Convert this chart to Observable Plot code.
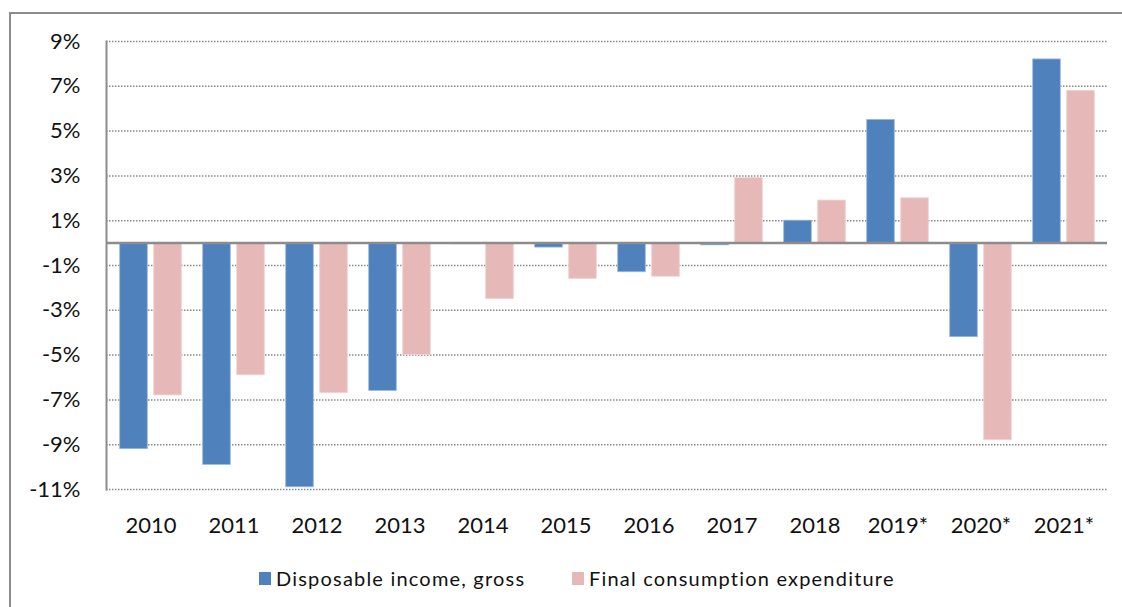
<!DOCTYPE html>
<html>
<head>
<meta charset="utf-8">
<script src="https://cdn.jsdelivr.net/npm/d3@7"></script>
<script src="https://cdn.jsdelivr.net/npm/@observablehq/plot@0.6"></script>
<style>
  html, body { margin: 0; padding: 0; background: #fff; overflow: hidden; width: 1122px; height: 607px; }
  #box { position: absolute; left: 9px; top: 12px; width: 2000px; height: 2000px;
         border-top: 2px solid #8c8c8c; border-left: 2px solid #8c8c8c; }
  #chart { position: absolute; left: 0; top: 0; }
  .leg { position: absolute; top: 566px; height: 24px; font-family: Lato, "Open Sans", sans-serif; font-size: 20px;
         letter-spacing: 1.2px; color: #111; display: flex; align-items: center; white-space: nowrap; }
  .sw { width: 12px; height: 13px; margin-right: 5px; display: inline-block; }
</style>
</head>
<body>
<div id="box"></div>
<div id="chart"></div>
<div id="legend"></div>
<script>
const years = ["2010","2011","2012","2013","2014","2015","2016","2017","2018","2019*","2020*","2021*"];
const incomeValues = [-9.2, -9.9, -10.9, -6.6, -0.05, -0.2, -1.3, -0.1, 1.0, 5.5, -4.2, 8.2];
const consumptionValues = [-6.8, -5.9, -6.7, -5.0, -2.5, -1.6, -1.5, 2.9, 1.9, 2.0, -8.8, 6.8];
const yTicks = [-11, -9, -7, -5, -3, -1, 1, 3, 5, 7, 9];
const seriesNames = ["Disposable income, gross", "Final consumption expenditure"];
const seriesColors = ["#4F81BD", "#E6B9B8"];

const income = years.map((y, i) => ({year: y, value: incomeValues[i]}));
const consumption = years.map((y, i) => ({year: y, value: consumptionValues[i]}));

const W = 1122, H = 545;
const mL = 106, mR = 15, mT = 41, mB = 56;
const step = (W - mL - mR) / years.length;
const barW = 28, gap = 6;
const outer = (step - 2 * barW - gap) / 2;

const chart = Plot.plot({
  width: W,
  height: H,
  marginLeft: mL,
  marginRight: mR,
  marginTop: mT,
  marginBottom: mB,
  style: { fontFamily: "Lato, 'Open Sans', sans-serif", fontSize: "22px", color: "#111", background: "transparent" },
  x: { domain: years, padding: 0, label: null },
  y: { domain: [-11, 9], label: null },
  marks: [
    Plot.gridY(yTicks, { stroke: "#8a8a8a", strokeOpacity: 1, strokeWidth: 1.5, strokeDasharray: "1.5,1.5" }),
    Plot.barY(income, { x: "year", y: "value", fill: seriesColors[0], stroke: "#9cb8dc", strokeWidth: 0.8,
      insetLeft: outer, insetRight: outer + barW + gap }),
    Plot.barY(consumption, { x: "year", y: "value", fill: seriesColors[1], stroke: "#f0d3d2", strokeWidth: 0.8,
      insetLeft: outer + barW + gap, insetRight: outer }),
    Plot.ruleY([0], { stroke: "#8c8c8c", strokeWidth: 2.5 }),
    Plot.frame({ anchor: "left", stroke: "#8c8c8c", strokeWidth: 2 }),
    Plot.axisY({ ticks: yTicks, tickSize: 0, tickPadding: 26, tickFormat: d => `${d}%` }),
    Plot.axisX({ tickSize: 0, tickPadding: 28 })
  ]
});
document.getElementById("chart").appendChild(chart);

const legend = document.getElementById("legend");
const legLeft = [259, 572];
seriesNames.forEach((name, i) => {
  const item = document.createElement("div");
  item.className = "leg";
  item.style.left = legLeft[i] + "px";
  const sw = document.createElement("span");
  sw.className = "sw";
  sw.style.background = seriesColors[i];
  item.appendChild(sw);
  item.appendChild(document.createTextNode(name));
  legend.appendChild(item);
});
</script>
</body>
</html>
